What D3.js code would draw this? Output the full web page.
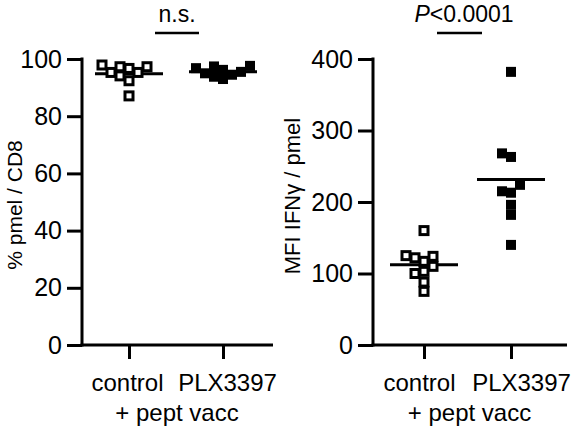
<!DOCTYPE html>
<html><head><meta charset="utf-8">
<script src="https://cdn.jsdelivr.net/npm/d3@7"></script>
<style>
body{margin:0;background:#fff}
svg{display:block}
text{font-family:"Liberation Sans",Arial,Helvetica,sans-serif;fill:#000}
</style>
</head><body>
<svg id="c" width="577" height="435"></svg>
<script>
// ---- data ----
const categories = ["control", "PLX3397"];
const groupLabel = "+ pept vacc";

const pmelControl = [96.7, 95.3, 94.1, 97.9, 92.4, 95.3, 97.3, 97.3, 87.1];
const pmelPLX     = [97.6, 97.4, 96.8, 96.2, 95.5, 95.0, 94.5, 93.8, 93.0];
const pmelTicks   = [0, 20, 40, 60, 80, 100];
const pmelTitle   = "% pmel / CD8";
const pmelStat    = "n.s.";

const ifngControl = [160, 125, 124, 122, 117, 110, 103, 100, 88, 75];
const ifngPLX     = [382, 268, 263, 224, 215, 213, 196, 182, 140];
const ifngTicks   = [0, 100, 200, 300, 400];
const ifngTitle   = "MFI IFNγ / pmel";
const ifngStatItalic = "P";
const ifngStatRest   = "<0.0001";

// ---- drawing ----
const svg = d3.select("#c");
const AX = 3;

function swarm(vals, yS, cx, s) {
  const pts = vals.map(v => ({v, y: yS(v)})).sort((a, b) => a.v - b.v);
  const placed = [];
  for (const p of pts) {
    for (let k = 0; k < 40; k++) {
      const cands = k === 0 ? [0] : [-k * s, k * s];
      let found = null;
      for (const o of cands) {
        const hit = placed.some(q => Math.abs(q.o - o) < s * 0.999 && Math.abs(q.y - p.y) < s);
        if (!hit) { found = o; break; }
      }
      if (found !== null) { p.o = found; break; }
    }
    placed.push(p);
  }
  return placed.map(p => ({v: p.v, x: cx + p.o, y: p.y}));
}

function panel(cfg) {
  const g = svg.append("g");
  const y = d3.scaleLinear().domain([0, cfg.max]).range([345, 59]);
  const x = d3.scalePoint().domain(categories).range(cfg.cats);

  // y axis
  const ya = g.append("g").attr("transform", `translate(${cfg.ax},0)`)
    .call(d3.axisLeft(y).tickValues(cfg.ticks).tickSize(15).tickSizeOuter(0).tickPadding(5));
  ya.select(".domain").remove();
  ya.selectAll("line").attr("stroke", "#000").attr("stroke-width", AX);
  ya.selectAll("text").attr("font-size", 25)
    .attr("font-family", "Liberation Sans, Arial, sans-serif").attr("fill", "#000");
  g.append("line").attr("x1", cfg.ax).attr("x2", cfg.ax)
    .attr("y1", y(0) + AX / 2).attr("y2", y(cfg.max) - AX / 2)
    .attr("stroke", "#000").attr("stroke-width", AX);

  // x axis
  const xa = g.append("g").attr("transform", `translate(0,${y(0)})`)
    .call(d3.axisBottom(x).tickSize(14).tickSizeOuter(0).tickPadding(15));
  xa.select(".domain").remove();
  xa.selectAll("line").attr("stroke", "#000").attr("stroke-width", AX);
  xa.selectAll("text").attr("font-size", 24).attr("font-family", "Liberation Sans, Arial, sans-serif").attr("fill", "#000")
    .attr("dx", (d, i) => cfg.labelShift[i]);
  g.append("line").attr("x1", cfg.ax - AX / 2).attr("x2", cfg.x1)
    .attr("y1", y(0)).attr("y2", y(0))
    .attr("stroke", "#000").attr("stroke-width", AX);

  g.append("text").attr("x", d3.mean(categories, c => x(c)) + cfg.groupShift).attr("y", 421)
    .attr("text-anchor", "middle").attr("font-size", 24).text(groupLabel);

  // y title
  g.append("text").attr("transform", `translate(${cfg.titleX},${cfg.titleY}) rotate(-90)`)
    .attr("text-anchor", "middle").attr("font-size", cfg.titleSize).text(cfg.title);

  // groups
  const groups = [
    {cat: categories[0], vals: cfg.control, open: true},
    {cat: categories[1], vals: cfg.plx, open: false}
  ];
  groups.forEach(gr => {
    const cx = x(gr.cat);
    const m = d3.mean(gr.vals);
    g.append("line").attr("x1", cx - 34).attr("x2", cx + 34)
      .attr("y1", y(m)).attr("y2", y(m))
      .attr("stroke", "#000").attr("stroke-width", 3);
    const pts = swarm(gr.vals, y, cx, 9);
    g.selectAll(null).data(pts).enter().append("rect")
      .attr("x", d => d.x - (gr.open ? 4 : 5))
      .attr("y", d => d.y - (gr.open ? 4 : 5))
      .attr("width", gr.open ? 8 : 10).attr("height", gr.open ? 8 : 10)
      .attr("fill", gr.open ? "#fff" : "#000")
      .attr("stroke", gr.open ? "#000" : "none")
      .attr("stroke-width", 3);
  });

  // significance
  g.append("line").attr("x1", cfg.bar[0]).attr("x2", cfg.bar[1])
    .attr("y1", 33).attr("y2", 33).attr("stroke", "#000").attr("stroke-width", 2.5);
  const st = g.append("text").attr("x", cfg.statX).attr("y", 22)
    .attr("text-anchor", "middle").attr("font-size", 23);
  cfg.stat(st);
}

panel({
  max: 100, ticks: pmelTicks, ax: 82, x1: 273, cats: [129, 223], labelShift: [-2, 4], groupShift: 1,
  control: pmelControl, plx: pmelPLX, title: pmelTitle, titleX: 22, titleY: 205, titleSize: 21,
  bar: [155, 199], statX: 177,
  stat: t => t.text(pmelStat)
});
panel({
  max: 400, ticks: ifngTicks, ax: 373, x1: 567, cats: [424, 511], labelShift: [-5, 10], groupShift: 2,
  control: ifngControl, plx: ifngPLX, title: ifngTitle, titleX: 300, titleY: 196, titleSize: 22,
  bar: [437, 482], statX: 464,
  stat: t => { t.append("tspan").attr("font-style", "italic").text(ifngStatItalic); t.append("tspan").text(ifngStatRest); }
});
</script>
</body></html>
